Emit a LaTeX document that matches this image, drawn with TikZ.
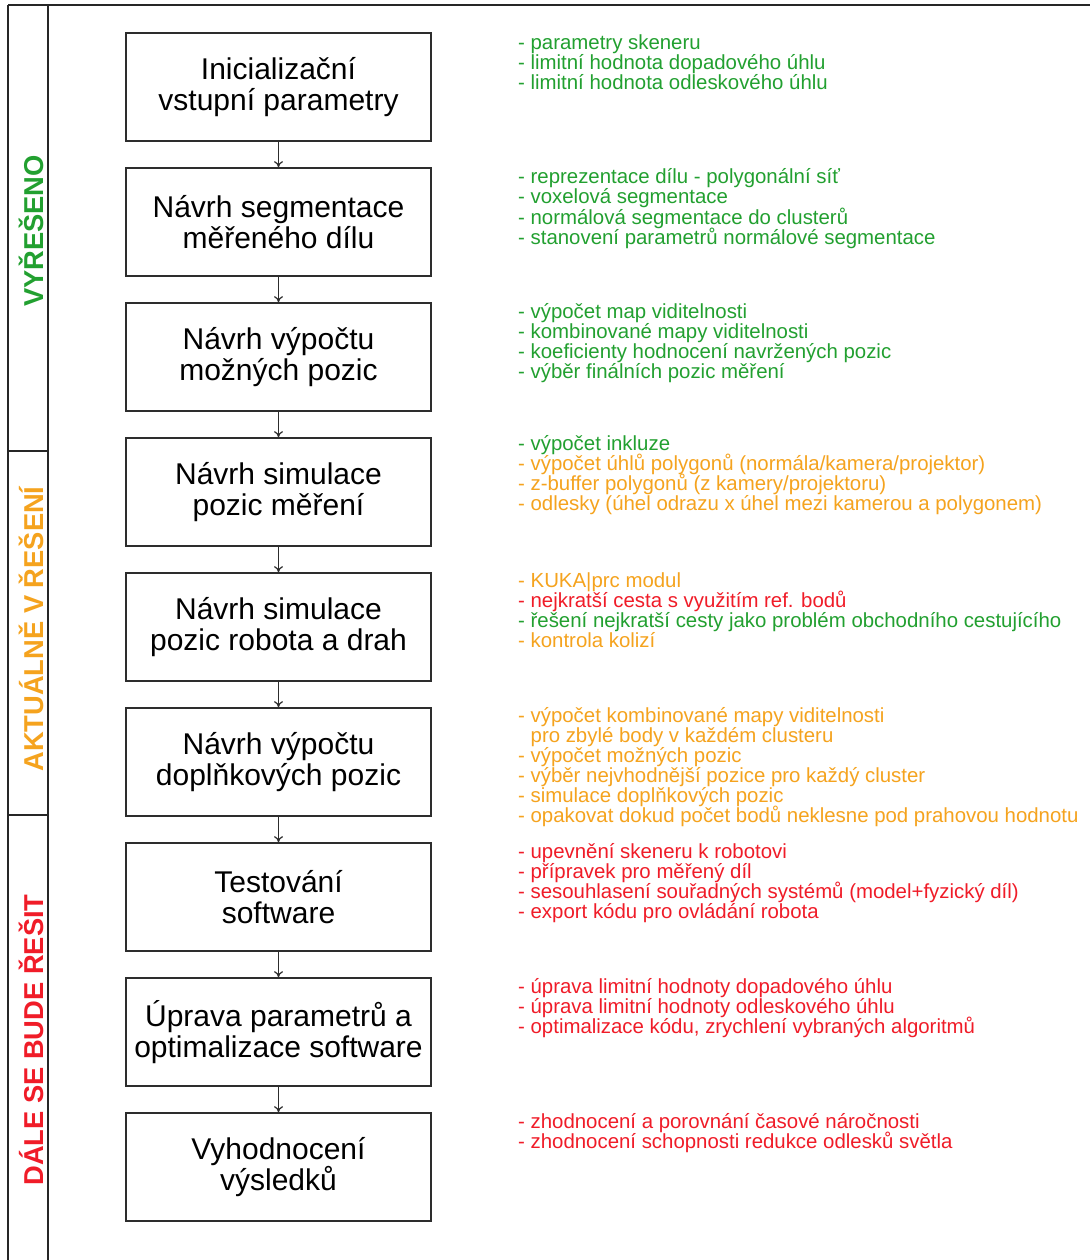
\documentclass[tikz,border=0pt]{standalone}
\usepackage{fontspec}
\setmainfont{Liberation Sans}
\usetikzlibrary{arrows.meta}
\definecolor{okgreen}{RGB}{34,160,48}
\definecolor{wiporange}{RGB}{245,163,30}
\definecolor{todored}{RGB}{240,28,40}
\definecolor{framegray}{RGB}{45,45,45}
\begin{document}
\begin{tikzpicture}[x=1pt,y=-1pt,
  stepbox/.style={draw=framegray,line width=1.7pt,minimum width=305pt,minimum height=108pt,
    inner sep=0pt,align=center,font=\fontsize{30}{31}\selectfont},
  item/.style={anchor=base west,inner sep=0pt,font=\fontsize{20.4}{20}\selectfont},
  flow/.style={draw=framegray,line width=1.2pt,-{To[length=6pt,width=9pt,line width=1.2pt]}},
  phase/.style={rotate=90,inner sep=0pt,font=\fontsize{27.3}{28}\selectfont\bfseries},
  rule/.style={draw=black!85,line width=1.8pt}]
\useasboundingbox (0,0) rectangle (1090,1260);
\fill[white] (0,0) rectangle (1090,1260);

% phase column
\coordinate (tl) at (8,5);
\coordinate (tr) at (1090,5);
\coordinate (bl) at (8,1260);
\coordinate (cr) at (48,5);
\coordinate (br) at (48,1260);
\coordinate (d1l) at (8,451);
\coordinate (d1r) at (48,451);
\coordinate (d2l) at (8,815);
\coordinate (d2r) at (48,815);
\draw[rule] (tl) -- (tr);
\draw[rule] (tl) -- (bl);
\draw[rule] (cr) -- (br);
\draw[rule] (d1l) -- (d1r);
\draw[rule] (d2l) -- (d2r);
\node[phase,text=okgreen] (ph1) at (31,231) {VYŘEŠENO};
\node[phase,text=wiporange] (ph2) at (31,629) {AKTUÁLNĚ V ŘEŠENÍ};
\node[phase,text=todored] (ph3) at (31,1040) {DÁLE SE BUDE ŘEŠIT};

% process steps
\node[stepbox] (s1) at (278.5,87)  {Inicializační\\vstupní parametry};
\node[stepbox] (s2) at (278.5,222) {Návrh segmentace\\měřeného dílu};
\node[stepbox] (s3) at (278.5,357) {Návrh výpočtu\\možných pozic};
\node[stepbox] (s4) at (278.5,492) {Návrh simulace\\pozic měření};
\node[stepbox] (s5) at (278.5,627) {Návrh simulace\\pozic robota a drah};
\node[stepbox] (s6) at (278.5,762) {Návrh výpočtu\\doplňkových pozic};
\node[stepbox] (s7) at (278.5,897) {Testování\\software};
\node[stepbox] (s8) at (278.5,1032) {Úprava parametrů a\\optimalizace software};
\node[stepbox] (s9) at (278.5,1167) {Vyhodnocení\\výsledků};

\foreach \a/\b in {s1/s2,s2/s3,s3/s4,s4/s5,s5/s6,s6/s7,s7/s8,s8/s9}
  \draw[flow] (\a) -- (\b);

% notes for each step
\node[item,text=okgreen] (n1a) at (518,50) {- parametry skeneru};
\node[item,text=okgreen] (n1b) at (518,70) {- limitní hodnota dopadového úhlu};
\node[item,text=okgreen] (n1c) at (518,90) {- limitní hodnota odleskového úhlu};

\node[item,text=okgreen] (n2a) at (518,184) {- reprezentace dílu - polygonální síť};
\node[item,text=okgreen] (n2b) at (518,204) {- voxelová segmentace};
\node[item,text=okgreen] (n2c) at (518,224) {- normálová segmentace do clusterů};
\node[item,text=okgreen] (n2d) at (518,244) {- stanovení parametrů normálové segmentace};

\node[item,text=okgreen] (n3a) at (518,318) {- výpočet map viditelnosti};
\node[item,text=okgreen] (n3b) at (518,338) {- kombinované mapy viditelnosti};
\node[item,text=okgreen] (n3c) at (518,358) {- koeficienty hodnocení navržených pozic};
\node[item,text=okgreen] (n3d) at (518,378) {- výběr finálních pozic měření};

\node[item,text=okgreen] (n4a) at (518,450) {- výpočet inkluze};
\node[item,text=wiporange] (n4b) at (518,470) {- výpočet úhlů polygonů (normála/kamera/projektor)};
\node[item,text=wiporange] (n4c) at (518,490) {- z-buffer polygonů (z kamery/projektoru)};
\node[item,text=wiporange] (n4d) at (518,510) {- odlesky (úhel odrazu x úhel mezi kamerou a polygonem)};

\node[item,text=wiporange] (n5a) at (518,587) {- KUKA|prc modul};
\node[item,text=todored] (n5b) at (518,607) {- nejkratší cesta s využitím ref. bodů};
\node[item,text=okgreen] (n5c) at (518,627) {- řešení nejkratší cesty jako problém obchodního cestujícího};
\node[item,text=wiporange] (n5d) at (518,647) {- kontrola kolizí};

\node[item,text=wiporange] (n6a) at (518,722) {- výpočet kombinované mapy viditelnosti};
\node[item,text=wiporange] (n6b) at (518,742) {\phantom{-} pro zbylé body v každém clusteru};
\node[item,text=wiporange] (n6c) at (518,762) {- výpočet možných pozic};
\node[item,text=wiporange] (n6d) at (518,782) {- výběr nejvhodnější pozice pro každý cluster};
\node[item,text=wiporange] (n6e) at (518,802) {- simulace doplňkových pozic};
\node[item,text=wiporange] (n6f) at (518,822) {- opakovat dokud počet bodů neklesne pod prahovou hodnotu};

\node[item,text=todored] (n7a) at (518,858) {- upevnění skeneru k robotovi};
\node[item,text=todored] (n7b) at (518,878) {- přípravek pro měřený díl};
\node[item,text=todored] (n7c) at (518,898) {- sesouhlasení souřadných systémů (model+fyzický díl)};
\node[item,text=todored] (n7d) at (518,918) {- export kódu pro ovládání robota};

\node[item,text=todored] (n8a) at (518,993) {- úprava limitní hodnoty dopadového úhlu};
\node[item,text=todored] (n8b) at (518,1013) {- úprava limitní hodnoty odleskového úhlu};
\node[item,text=todored] (n8c) at (518,1033) {- optimalizace kódu, zrychlení vybraných algoritmů};

\node[item,text=todored] (n9a) at (518,1128) {- zhodnocení a porovnání časové náročnosti};
\node[item,text=todored] (n9b) at (518,1148) {- zhodnocení schopnosti redukce odlesků světla};
\end{tikzpicture}
\end{document}
